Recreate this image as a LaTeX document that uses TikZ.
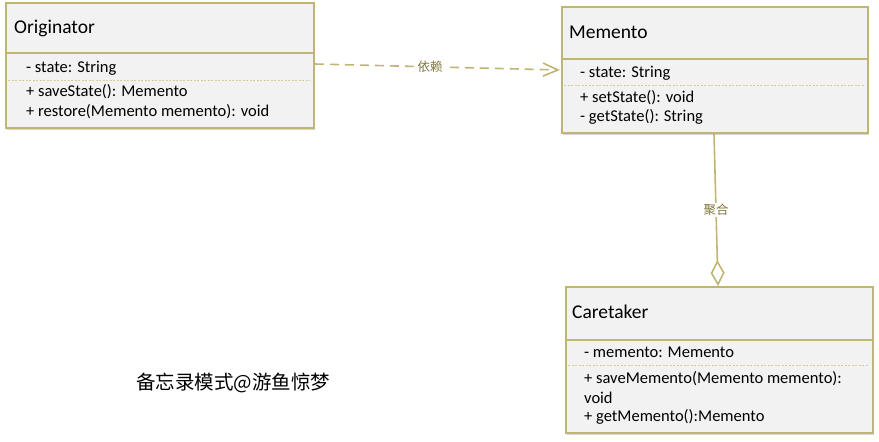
\documentclass[tikz,border=0pt]{standalone}
\usepackage{fontspec}
\setmainfont{Carlito}
\newfontfamily\cjk{Noto Sans CJK SC}
\usetikzlibrary{arrows.meta,calc}
\definecolor{umlborder}{RGB}{192,182,115}
\definecolor{umlfill}{RGB}{242,242,242}
\definecolor{sepline}{RGB}{214,204,150}
\definecolor{labeltext}{RGB}{128,118,62}
\definecolor{shadowc}{RGB}{215,215,215}
\begin{document}
\begin{tikzpicture}[x=1pt,y=-1pt,
  classbox/.style={draw=umlborder, fill=umlfill, line width=1.8pt, inner sep=0pt, anchor=north west},
  shadowbox/.style={fill=shadowc, draw=none, inner sep=0pt, anchor=north west},
  titletext/.style={font=\fontsize{19.5}{22}\selectfont, anchor=west, inner sep=0pt},
  membertext/.style={font=\fontsize{16.5}{19}\selectfont, anchor=west, inner sep=0pt},
  hline/.style={draw=umlborder, line width=1.8pt},
  sepdash/.style={draw=sepline, line width=0.8pt, dash pattern=on 2pt off 1.5pt},
  conn/.style={draw=umlborder, line width=1.6pt},
  connlabel/.style={font=\cjk\fontsize{12.5}{14}\selectfont, text=labeltext, fill=white, inner sep=1pt}
]
\useasboundingbox (0,0) rectangle (879,442);

% shadows
\node[shadowbox, minimum width=308pt, minimum height=125pt] at (7,4.5) {};
\node[shadowbox, minimum width=306pt, minimum height=126pt] at (563,8.5) {};
\node[shadowbox, minimum width=307pt, minimum height=146pt] at (567,288.5) {};

% Originator
\node[classbox, minimum width=308pt, minimum height=125pt] (o) at (5,2) {};
\draw[hline] (5,53) -- (313,53);
\draw[sepdash] (8,80) -- (310,80);
\node[titletext] (ot) at (14,28) {Originator};
\node[membertext] (o1) at (26,68) {- state: String};
\node[membertext] (o2) at (26,92) {+ saveState(): Memento};
\node[membertext] (o3) at (26,112) {+ restore(Memento memento): void};

% Memento
\node[classbox, minimum width=306pt, minimum height=126pt] (m) at (561,6) {};
\draw[hline] (561,59) -- (867,59);
\draw[sepdash] (564,85) -- (864,85);
\node[titletext] (mt) at (569,32) {Memento};
\node[membertext] (m1) at (580,73) {- state: String};
\node[membertext] (m2) at (580,98) {+ setState(): void};
\node[membertext] (m3) at (580,117) {- getState(): String};

% Caretaker
\node[classbox, minimum width=307pt, minimum height=146pt] (c) at (565,286) {};
\draw[hline] (565,340) -- (872,340);
\draw[sepdash] (568,365) -- (869,365);
\node[titletext] (ct) at (572,312) {Caretaker};
\node[membertext] (c1) at (584,352) {- memento: Memento};
\node[membertext] (c2) at (584,379) {+ saveMemento(Memento memento):};
\node[membertext] (c3) at (584,398) {void};
\node[membertext] (c4) at (584,417) {+ getMemento():Memento};

% dependency
\coordinate (depA) at ($(o.north east)+(0,62)$);
\coordinate (depB) at ($(m.north west)+(-1,64)$);
\draw[conn, dash pattern=on 9pt off 6pt, -{Straight Barb[length=15pt,width=13pt,line width=1.6pt]}] (depA) -- (depB)
  node[connlabel, pos=0.47] (dl) {依赖};

% aggregation
\coordinate (aggA) at ($(m.south west)+(153,0)$);
\coordinate (aggB) at ($(c.north west)+(153,0)$);
\draw[conn, -{Diamond[length=26pt,width=14pt,fill=white,line width=1.6pt]}] (aggA) -- (aggB)
  node[connlabel, pos=0.5] (al) {聚合};

% caption
\node[font=\cjk\fontsize{19.5}{23}\selectfont, anchor=west, inner sep=0pt] (cap) at (136,383) {备忘录模式@游鱼惊梦};
\end{tikzpicture}
\end{document}
